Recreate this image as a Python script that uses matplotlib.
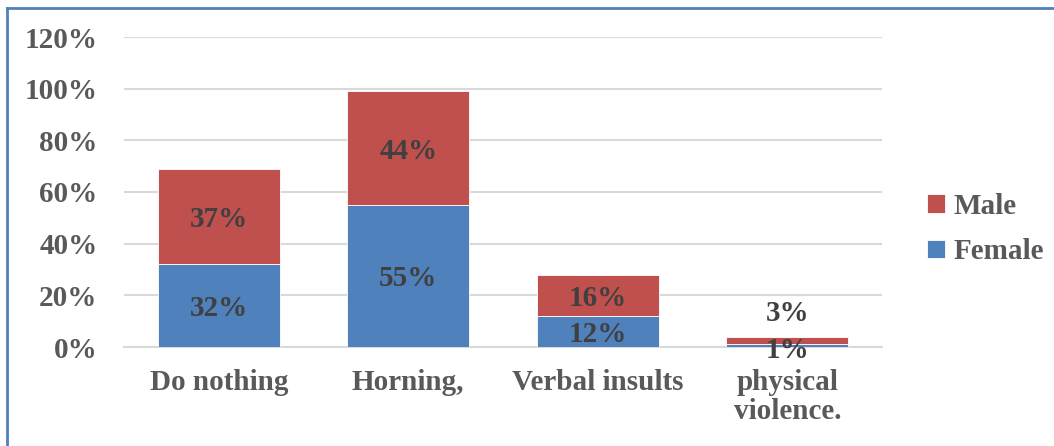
import numpy as np
import matplotlib.pyplot as plt
from matplotlib.lines import Line2D
from matplotlib.ticker import MultipleLocator, FuncFormatter
from matplotlib.transforms import offset_copy

categories = ["Do nothing", "Horning,", "Verbal insults", "physical\nviolence."]
female = [32, 55, 12, 1]
male = [37, 44, 16, 3]

BLUE = "#4F81BD"
RED = "#C0504D"
GREY = "#595959"
DARK = "#404040"
FS = 21

plt.rcParams["font.family"] = ["Liberation Serif", "DejaVu Serif"]
plt.rcParams["font.weight"] = "bold"

fig = plt.figure(figsize=(10.54, 4.46), dpi=100, facecolor="white")
ax = fig.add_axes([124 / 1054, 1 - 347 / 446, (882 - 124) / 1054, (347 - 37) / 446])

x = np.arange(len(categories))
w = 0.645
b_f = ax.bar(x, female, w, color=BLUE, edgecolor="white", linewidth=0.6, label="Female", zorder=3)
b_m = ax.bar(x, male, w, bottom=female, color=RED, edgecolor="white", linewidth=0.6, label="Male", zorder=3)

ax.set_xlim(-0.5, len(categories) - 0.5)
ax.set_ylim(0, 120)
ax.yaxis.set_major_locator(MultipleLocator(20))
ax.yaxis.set_major_formatter(FuncFormatter(lambda v, _: f"{v:.0f}%"))
ax.grid(axis="y", color="#D9D9D9", linewidth=1.5, zorder=0)
for s in ["top", "right", "left"]:
    ax.spines[s].set_visible(False)
ax.spines["bottom"].set_color("#D9D9D9")
ax.spines["bottom"].set_linewidth(1.5)
ax.tick_params(axis="both", length=0, labelsize=FS, labelcolor=GREY)
ax.tick_params(axis="y", pad=19)
ax.tick_params(axis="x", pad=16)
ax.set_xticks(x)
ax.set_xticklabels(categories, fontsize=FS, fontweight="bold", linespacing=1.1)
for t in ax.get_yticklabels():
    t.set_fontweight("bold")

# segment labels, nudged a few pixels down
lbl = offset_copy(ax.transData, fig=fig, x=0, y=-3, units="dots")
for i, (f, m) in enumerate(zip(female, male)):
    if f + m > 10:
        ax.text(i, f / 2, f"{f}%", transform=lbl, ha="center", va="center", fontsize=FS, fontweight="bold", color=DARK, zorder=4)
        ax.text(i, f + m / 2, f"{m}%", transform=lbl, ha="center", va="center", fontsize=FS, fontweight="bold", color=DARK, zorder=4)
    else:
        ax.text(i, f - 1, f"{f}%", transform=lbl, ha="center", va="center", fontsize=FS, fontweight="bold", color=DARK, zorder=4)
        ax.text(i, f + m + 10, f"{m}%", transform=lbl, ha="center", va="center", fontsize=FS, fontweight="bold", color=DARK, zorder=4)

leg = fig.legend(handles=[b_m, b_f], labels=["Male", "Female"], loc="center left",
                 bbox_to_anchor=(901 / 1054, 1 - 229 / 446), frameon=False,
                 prop={"size": FS, "weight": "bold"}, handlelength=0.6, handleheight=0.6,
                 handletextpad=0.3, labelspacing=0.65)
for t in leg.get_texts():
    t.set_color(GREY)

# frame along the top and left edges
fig.add_artist(Line2D([7 / 1054, 7 / 1054], [0, 1 - 8 / 446], transform=fig.transFigure,
                      color="#4F81BD", linewidth=2))
fig.add_artist(Line2D([7 / 1054, 1], [1 - 8 / 446, 1 - 8 / 446], transform=fig.transFigure,
                      color="#4F81BD", linewidth=2))

fig.savefig("out.png", dpi=100, facecolor="white")
